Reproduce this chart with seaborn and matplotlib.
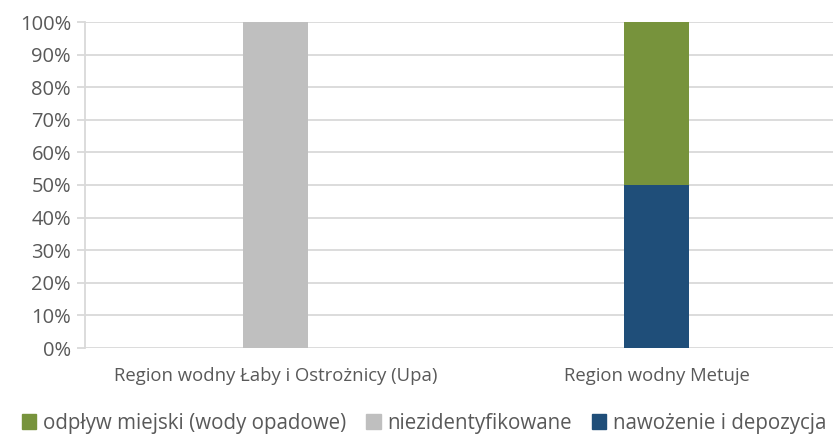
import matplotlib
matplotlib.use("Agg")
import matplotlib.pyplot as plt
from matplotlib.patches import Patch
from matplotlib.ticker import PercentFormatter
import seaborn as sns

categories = ["Region wodny Łaby i Ostrożnicy (Upa)", "Region wodny Metuje"]
series_names = ["nawożenie i depozycja", "niezidentyfikowane", "odpływ miejski (wody opadowe)"]
nawozenie = [0, 50]
niezidentyfikowane = [100, 0]
odplyw = [0, 50]
colors = ["#1F4E79", "#BFBFBF", "#77933C"]

sns.set_theme(style="white")
plt.rcParams['font.family'] = ['Open Sans', 'DejaVu Sans']

fig = plt.figure(figsize=(8.33, 4.34), dpi=100)
ax = fig.add_axes([85 / 833, 86 / 434, 762 / 833, 326 / 434])

# stack the series from the bottom up
bottom = [0, 0]
for name, vals, col in zip(series_names, [nawozenie, niezidentyfikowane, odplyw], colors):
    sns.barplot(x=categories, y=vals, bottom=bottom, color=col, width=0.168,
                ax=ax, linewidth=0, saturation=1)
    bottom = [b + v for b, v in zip(bottom, vals)]

ax.set_xlim(-0.5, 1.5)
ax.set_ylim(0, 100)
ax.set_yticks(range(0, 101, 10))
ax.yaxis.set_major_formatter(PercentFormatter(decimals=0))
ax.grid(axis="y", color="#D9D9D9", linewidth=1.3)
ax.set_axisbelow(True)
for s in ["top", "right", "bottom"]:
    ax.spines[s].set_visible(False)
ax.spines["left"].set_color("#D9D9D9")
ax.spines["left"].set_linewidth(1.3)
ax.tick_params(axis="y", length=6, width=1.3, color="#D9D9D9", labelsize=14.5,
               labelcolor="#595959", pad=4, left=True)
ax.tick_params(axis="x", length=0, labelsize=13.3, labelcolor="#595959", pad=14)
ax.set_xlabel("")
ax.set_ylabel("")

handles = [Patch(color=colors[2]), Patch(color=colors[1]), Patch(color=colors[0])]
labels = [series_names[2], series_names[1], series_names[0]]
fig.legend(handles, labels, loc="center left", bbox_to_anchor=(22 / 833, 1 - 423 / 434),
           ncol=3, frameon=False, fontsize=14.8, labelcolor="#595959",
           handlelength=0.7, handleheight=0.7, handletextpad=0.3, columnspacing=1.0,
           borderaxespad=0, borderpad=0)

fig.savefig("out.png", dpi=100)
